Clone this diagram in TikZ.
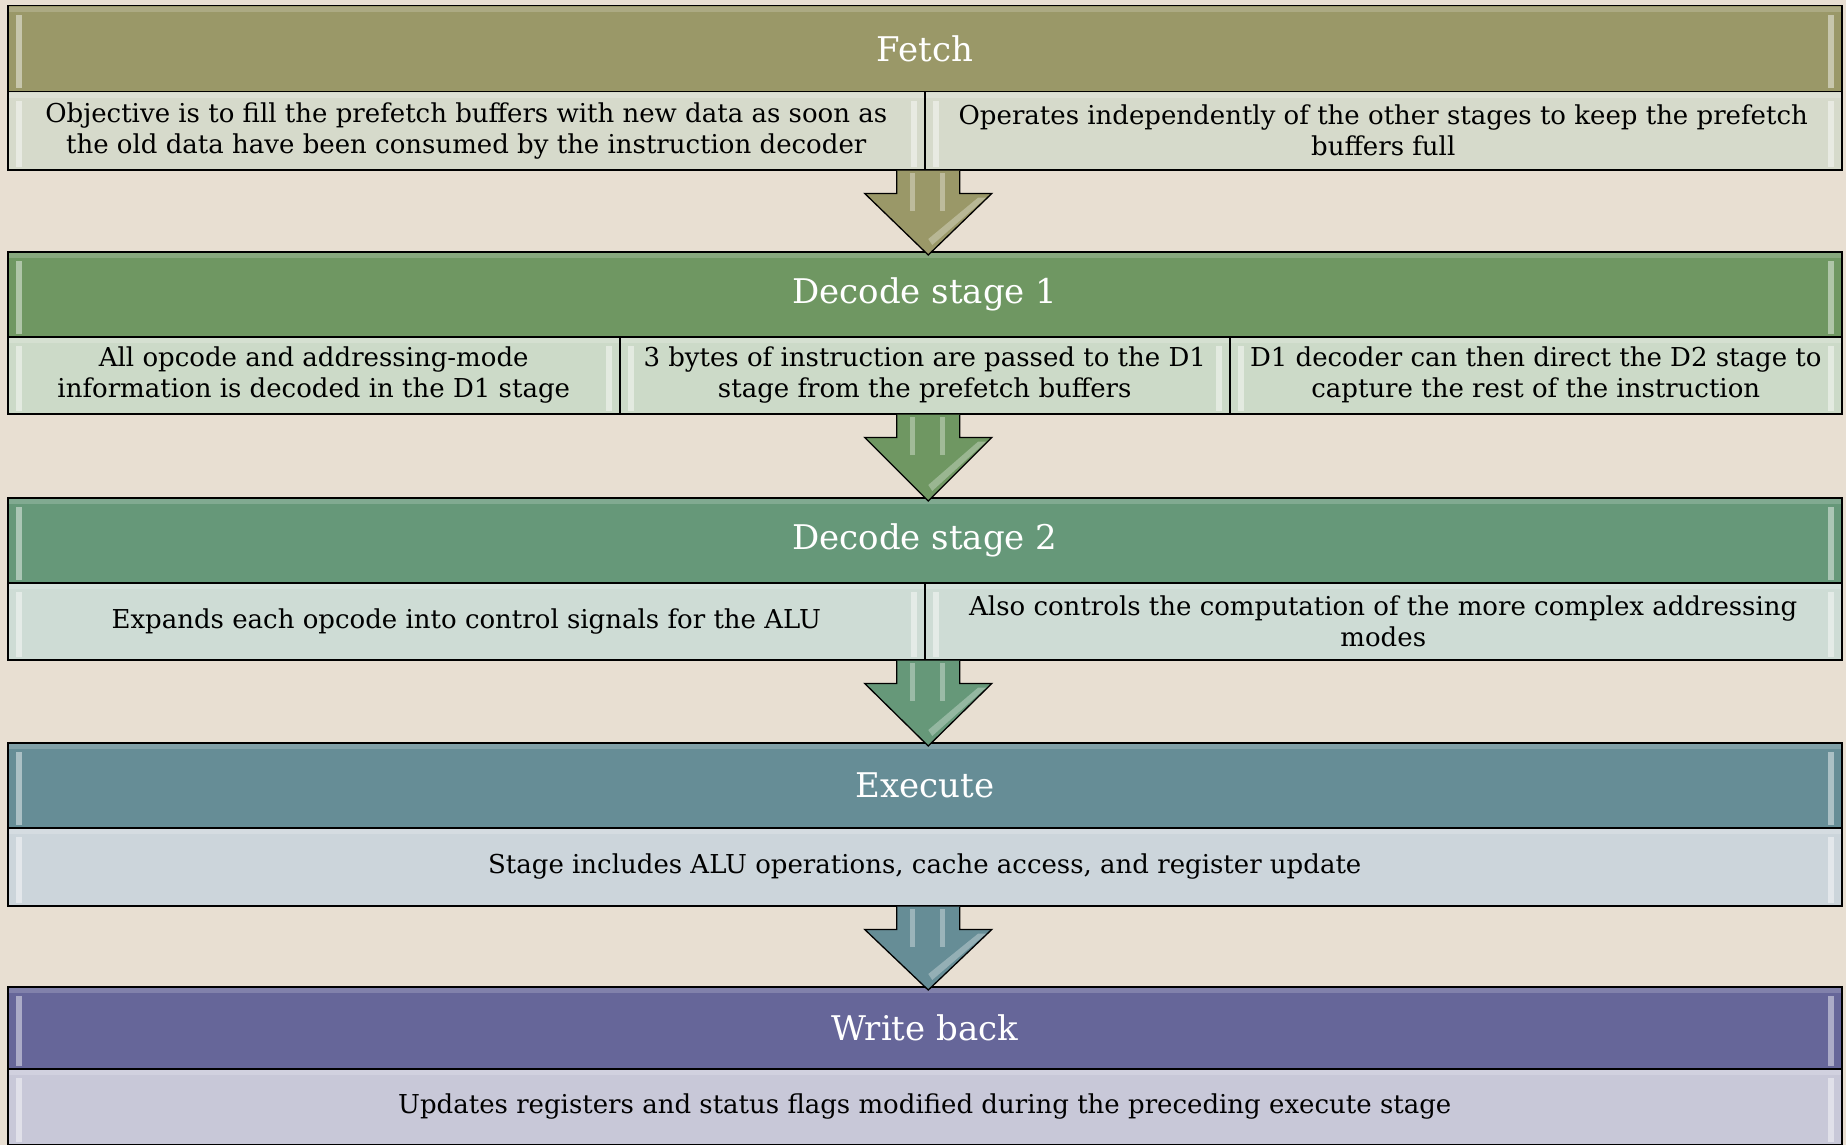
\documentclass[tikz,border=0pt]{standalone}
\usepackage{fontspec}
\setmainfont{DejaVu Serif}
\usetikzlibrary{calc}
\definecolor{bg}{HTML}{E8DFD2}
\definecolor{hF}{HTML}{9A9868}\definecolor{sF}{HTML}{D6DACB}
\definecolor{hA}{HTML}{6F9762}\definecolor{sA}{HTML}{CCDAC8}
\definecolor{hB}{HTML}{669879}\definecolor{sB}{HTML}{CEDCD5}
\definecolor{hE}{HTML}{668D96}\definecolor{sE}{HTML}{CCD5DB}
\definecolor{hW}{HTML}{666699}\definecolor{sW}{HTML}{C8C8D8}
\newcommand{\glossbox}[1]{%
  \fill[white,opacity=0.45] ($(#1.north west)+(9,10)$) rectangle ($(#1.south west)+(15,-4)$);
  \fill[white,opacity=0.45] ($(#1.north east)+(-15,10)$) rectangle ($(#1.south east)+(-9,-4)$);
  \fill[white,opacity=0.18] ($(#1.north west)+(2,2)$) rectangle ($(#1.north east)+(-2,7)$);
}
\newcommand{\stagearrow}[3]{% #1 from node, #2 to node, #3 colour
  \coordinate (ta) at ($(#2.north)+(3.5,0)$);
  \coordinate (sa) at (ta |- #1.south);
  \draw[black,line width=1.3pt,fill=#3,line join=miter]
    ($(sa)+(-31.5,0)$) -- ($(sa)+(-31.5,23)$) -- ($(sa)+(-63.5,23)$) -- ($(ta)+(0,4)$)
    -- ($(sa)+(63.5,23)$) -- ($(sa)+(31.5,23)$) -- ($(sa)+(31.5,0)$);
  \fill[white,opacity=0.35] ($(sa)+(-18,2)$) rectangle ($(sa)+(-13,40)$);
  \fill[white,opacity=0.35] ($(sa)+(12,2)$) rectangle ($(sa)+(17,40)$);
  \fill[white,opacity=0.3] ($(sa)+(50,27)$) -- ($(sa)+(58,27)$) -- ($(ta)+(4,-6)$) -- ($(ta)+(0,-12)$) -- cycle;
}
\begin{document}
\begin{tikzpicture}[x=1pt,y=-1pt,
  hdr/.style={draw=black,line width=1.5pt,anchor=north west,inner sep=0pt,
    minimum width=1834pt,font=\fontsize{34}{40}\selectfont,text=white},
  cell/.style={draw=black,line width=1.5pt,anchor=north west,inner sep=0pt,
    align=center,font=\fontsize{26}{31}\selectfont,text=black}]
\fill[bg] (0,0) rectangle (1846,1145);
\useasboundingbox (0,0) rectangle (1846,1145);
% Fetch
\node[hdr,fill=hF,minimum height=86pt] (hF) at (7,5) {Fetch};
\node[cell,fill=sF,minimum width=917pt,minimum height=78pt] (f1) at (7,91)
  {Objective is to fill the prefetch buffers with new data as soon as\\the old data have been consumed by the instruction decoder};
\node[cell,fill=sF,minimum width=917pt,minimum height=78pt] (f2) at (924,91)
  {Operates independently of the other stages to keep the prefetch\\buffers full};
% Decode 1
\node[hdr,fill=hA,minimum height=85pt] (hA) at (7,251) {Decode stage 1};
\node[cell,fill=sA,minimum width=612pt,minimum height=77pt] (a1) at (7,336)
  {All opcode and addressing-mode\\information is decoded in the D1 stage};
\node[cell,fill=sA,minimum width=610pt,minimum height=77pt] (a2) at (619,336)
  {3 bytes of instruction are passed to the D1\\stage from the prefetch buffers};
\node[cell,fill=sA,minimum width=612pt,minimum height=77pt] (a3) at (1229,336)
  {D1 decoder can then direct the D2 stage to\\capture the rest of the instruction};
% Decode 2
\node[hdr,fill=hB,minimum height=85pt] (hB) at (7,497) {Decode stage 2};
\node[cell,fill=sB,minimum width=917pt,minimum height=77pt] (b1) at (7,582)
  {Expands each opcode into control signals for the ALU};
\node[cell,fill=sB,minimum width=917pt,minimum height=77pt] (b2) at (924,582)
  {Also controls the computation of the more complex addressing\\modes};
% Execute
\node[hdr,fill=hE,minimum height=85pt] (hE) at (7,742) {Execute};
\node[cell,fill=sE,minimum width=1834pt,minimum height=78pt] (e1) at (7,827)
  {Stage includes ALU operations, cache access, and register update};
% Write back
\node[hdr,fill=hW,minimum height=82pt] (hW) at (7,986) {Write back};
\node[cell,fill=sW,minimum width=1834pt,minimum height=76pt] (w1) at (7,1068)
  {Updates registers and status flags modified during the preceding execute stage};
% gloss
\foreach \n in {hF,f1,f2,hA,a1,a2,a3,hB,b1,b2,hE,e1,hW,w1}{\glossbox{\n}}
% arrows
\stagearrow{f1}{hA}{hF}
\stagearrow{a2}{hB}{hA}
\stagearrow{b1}{hE}{hB}
\stagearrow{e1}{hW}{hE}
\end{tikzpicture}
\end{document}
